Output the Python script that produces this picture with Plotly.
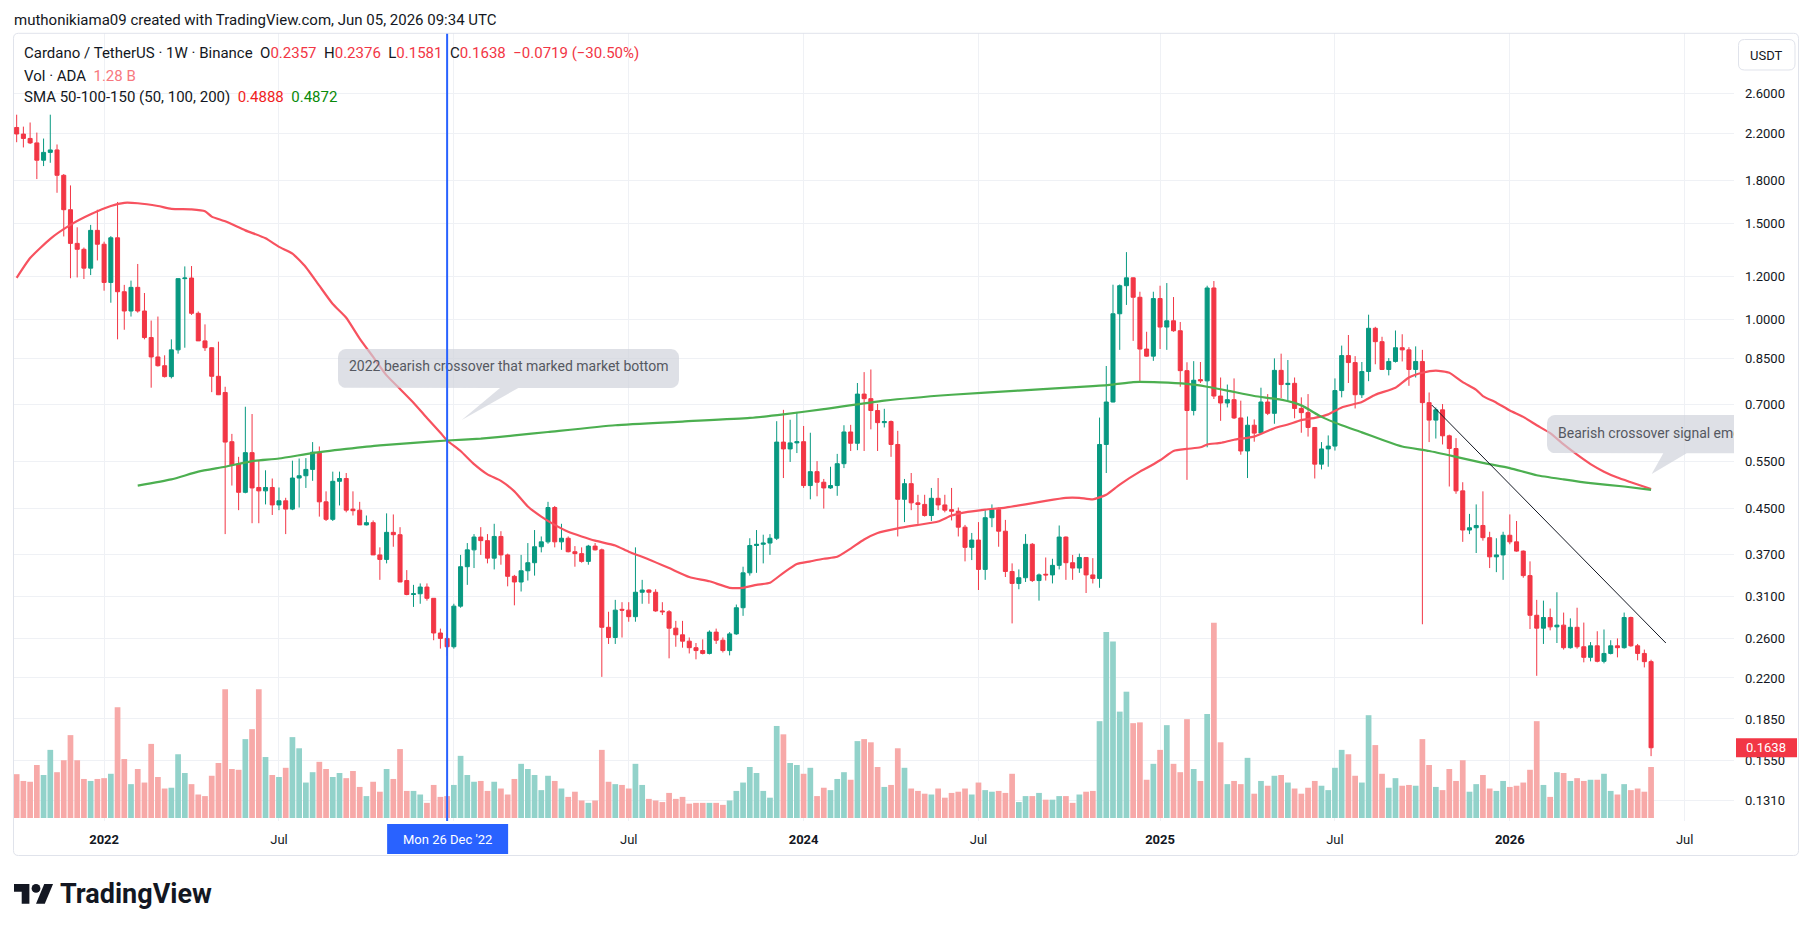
import numpy as np
import pandas as pd
import plotly.graph_objects as go

# ---------------- data ----------------
first_bar = "2021-10-04"          # weekly bars, Monday dates

opens = [2.252,2.19,2.15,2.11,1.961,2.027,2.048,1.840,1.591,1.380,
         1.346,1.243,1.458,1.375,1.170,1.413,1.125,1.037,1.146,1.037,
         0.927,0.854,0.823,0.786,0.880,1.189,1.192,1.027,0.914,0.888,
         0.787,0.735,0.597,0.543,0.482,0.570,0.492,0.485,0.492,0.457,
         0.465,0.449,0.512,0.517,0.531,0.571,0.463,0.430,0.505,0.511,
         0.449,0.447,0.420,0.424,0.370,0.363,0.407,0.403,0.332,0.313,
         0.314,0.323,0.308,0.266,0.260,0.251,0.298,0.352,0.378,0.399,
         0.393,0.365,0.400,0.370,0.338,0.330,0.346,0.358,0.383,0.391,
         0.452,0.391,0.397,0.375,0.372,0.360,0.384,0.378,0.2725,0.261,
         0.294,0.293,0.285,0.316,0.319,0.316,0.292,0.291,0.2715,0.264,
         0.257,0.250,0.247,0.244,0.267,0.258,0.247,0.265,0.296,0.343,
         0.385,0.387,0.389,0.397,0.596,0.579,0.594,0.597,0.496,0.526,
         0.503,0.491,0.496,0.544,0.622,0.593,0.730,0.716,0.681,0.647,
         0.650,0.590,0.468,0.500,0.461,0.458,0.437,0.470,0.457,0.448,
         0.445,0.416,0.382,0.394,0.348,0.433,0.448,0.409,0.345,0.328,
         0.336,0.387,0.332,0.341,0.340,0.354,0.399,0.358,0.350,0.366,
         0.340,0.335,0.590,0.706,1.025,1.154,1.193,1.099,0.883,0.857,
         1.093,0.969,0.995,0.954,0.806,0.681,0.776,0.772,1.143,0.724,
         0.703,0.713,0.660,0.574,0.640,0.619,0.706,0.673,0.807,0.760,
         0.764,0.687,0.675,0.634,0.543,0.579,0.586,0.741,0.859,0.834,
         0.728,0.803,0.964,0.911,0.810,0.838,0.888,0.880,0.810,0.838,
         0.704,0.654,0.683,0.612,0.580,0.485,0.411,0.415,0.419,0.398,
         0.367,0.370,0.402,0.391,0.376,0.339,0.2867,0.2715,0.284,0.273,
         0.275,0.250,0.2725,0.251,0.240,0.252,0.236,0.244,0.252,0.250,
         0.284,0.252,0.244,0.2357]

highs = [2.377,2.26,2.30,2.204,2.149,2.377,2.096,1.85,1.763,1.477,
         1.356,1.492,1.591,1.39,1.423,1.644,1.158,1.179,1.265,1.119,
         0.996,1.013,0.86,0.92,1.19,1.252,1.254,1.035,0.980,0.89,
         0.911,0.753,0.617,0.560,0.692,0.671,0.550,0.529,0.511,0.492,
         0.471,0.551,0.556,0.557,0.596,0.585,0.484,0.526,0.526,0.523,
         0.484,0.463,0.437,0.428,0.382,0.441,0.439,0.416,0.347,0.326,
         0.328,0.328,0.308,0.271,0.265,0.301,0.370,0.389,0.404,0.416,
         0.404,0.422,0.409,0.372,0.340,0.370,0.389,0.411,0.400,0.463,
         0.455,0.422,0.400,0.384,0.382,0.386,0.389,0.380,0.291,0.306,
         0.303,0.303,0.382,0.333,0.320,0.320,0.303,0.293,0.280,0.280,
         0.261,0.255,0.259,0.269,0.271,0.261,0.267,0.300,0.352,0.397,
         0.411,0.403,0.404,0.651,0.683,0.655,0.677,0.638,0.620,0.550,
         0.510,0.537,0.567,0.640,0.641,0.765,0.801,0.810,0.700,0.686,
         0.653,0.625,0.510,0.523,0.477,0.477,0.491,0.512,0.477,0.491,
         0.452,0.420,0.406,0.425,0.447,0.458,0.452,0.429,0.357,0.348,
         0.404,0.389,0.342,0.366,0.364,0.419,0.400,0.370,0.372,0.366,
         0.365,0.661,0.822,1.159,1.160,1.330,1.195,1.125,0.950,1.125,
         1.154,1.167,1.100,0.990,0.835,0.839,0.836,1.154,1.177,0.783,
         0.760,0.780,0.710,0.664,0.656,0.750,0.730,0.849,0.866,0.843,
         0.783,0.720,0.730,0.635,0.596,0.613,0.780,0.896,0.937,0.857,
         0.836,1.021,0.970,0.930,0.850,0.955,0.940,0.890,0.893,0.880,
         0.735,0.690,0.700,0.615,0.606,0.503,0.440,0.458,0.484,0.408,
         0.397,0.408,0.439,0.427,0.377,0.360,0.306,0.305,0.295,0.316,
         0.290,0.283,0.296,0.278,0.256,0.268,0.270,0.258,0.260,0.290,
         0.285,0.254,0.248,0.2376]

lows = [2.116,2.07,2.10,1.811,1.913,1.94,1.709,1.421,1.191,1.195,
        1.187,1.207,1.284,1.130,1.074,0.920,0.958,1.013,1.03,0.920,
        0.750,0.82,0.783,0.78,0.866,0.888,1.02,0.914,0.876,0.736,
        0.727,0.404,0.496,0.447,0.48,0.423,0.423,0.458,0.438,0.447,
        0.404,0.447,0.452,0.491,0.506,0.435,0.427,0.427,0.456,0.443,
        0.437,0.420,0.419,0.370,0.333,0.357,0.383,0.330,0.312,0.297,
        0.301,0.305,0.258,0.249,0.2415,0.249,0.296,0.326,0.350,0.370,
        0.357,0.348,0.355,0.324,0.299,0.317,0.332,0.339,0.374,0.388,
        0.382,0.378,0.374,0.352,0.358,0.355,0.377,0.221,0.254,0.254,
        0.261,0.279,0.279,0.301,0.301,0.291,0.287,0.239,0.251,0.250,
        0.244,0.238,0.243,0.243,0.254,0.245,0.242,0.264,0.286,0.339,
        0.343,0.357,0.370,0.394,0.512,0.548,0.569,0.491,0.468,0.474,
        0.450,0.489,0.475,0.534,0.574,0.576,0.574,0.629,0.574,0.634,
        0.560,0.400,0.425,0.447,0.422,0.435,0.427,0.447,0.443,0.428,
        0.400,0.360,0.362,0.319,0.333,0.416,0.383,0.337,0.277,0.320,
        0.330,0.330,0.305,0.332,0.328,0.348,0.333,0.333,0.343,0.315,
        0.328,0.322,0.523,0.705,0.880,1.064,0.914,0.768,0.855,0.840,
        0.883,0.880,0.950,0.753,0.508,0.667,0.765,0.583,0.715,0.652,
        0.690,0.657,0.565,0.512,0.597,0.618,0.668,0.644,0.718,0.710,
        0.659,0.620,0.610,0.511,0.531,0.537,0.575,0.720,0.765,0.687,
        0.718,0.771,0.828,0.808,0.790,0.834,0.838,0.756,0.783,0.276,
        0.596,0.605,0.590,0.494,0.479,0.391,0.404,0.373,0.393,0.350,
        0.344,0.333,0.387,0.375,0.336,0.2705,0.222,0.254,0.269,0.255,
        0.248,0.249,0.249,0.235,0.236,0.235,0.234,0.243,0.240,0.249,
        0.251,0.237,0.230,0.1581]

closes = [2.191,2.15,2.11,1.961,2.027,2.048,1.840,1.591,1.380,1.346,
          1.243,1.458,1.375,1.170,1.413,1.125,1.037,1.146,1.037,0.927,
          0.854,0.823,0.786,0.880,1.189,1.192,1.027,0.914,0.888,0.787,
          0.728,0.596,0.541,0.482,0.570,0.491,0.485,0.492,0.457,0.465,
          0.449,0.512,0.517,0.531,0.571,0.463,0.430,0.505,0.511,0.447,
          0.446,0.420,0.424,0.370,0.363,0.407,0.403,0.330,0.313,0.314,
          0.323,0.308,0.266,0.260,0.251,0.298,0.352,0.378,0.399,0.393,
          0.365,0.400,0.370,0.338,0.330,0.346,0.358,0.383,0.391,0.452,
          0.391,0.397,0.375,0.372,0.360,0.384,0.378,0.2725,0.261,0.293,
          0.293,0.285,0.316,0.319,0.316,0.292,0.291,0.2715,0.264,0.257,
          0.250,0.247,0.244,0.267,0.258,0.247,0.265,0.296,0.343,0.385,
          0.387,0.389,0.397,0.596,0.579,0.594,0.597,0.496,0.526,0.503,
          0.491,0.496,0.544,0.622,0.593,0.730,0.716,0.681,0.647,0.650,
          0.590,0.468,0.500,0.461,0.458,0.437,0.470,0.457,0.447,0.445,
          0.416,0.382,0.394,0.348,0.433,0.448,0.409,0.345,0.328,0.336,
          0.387,0.332,0.340,0.340,0.354,0.399,0.358,0.350,0.366,0.340,
          0.335,0.590,0.706,1.025,1.154,1.193,1.099,0.883,0.857,1.093,
          0.969,0.995,0.954,0.806,0.681,0.774,0.772,1.143,0.724,0.703,
          0.713,0.660,0.574,0.640,0.619,0.706,0.673,0.807,0.760,0.764,
          0.687,0.675,0.634,0.543,0.579,0.586,0.741,0.859,0.834,0.728,
          0.803,0.964,0.911,0.810,0.838,0.888,0.880,0.810,0.838,0.704,
          0.654,0.683,0.612,0.580,0.485,0.411,0.415,0.419,0.398,0.367,
          0.370,0.402,0.391,0.376,0.339,0.2867,0.2715,0.284,0.273,0.275,
          0.250,0.2725,0.251,0.240,0.252,0.236,0.244,0.252,0.250,0.284,
          0.252,0.244,0.2357,0.1638]

volume_bn = [1.10,0.93,0.91,1.33,1.08,1.71,1.15,1.45,2.08,1.45,
             0.98,0.93,0.98,1.00,1.11,2.78,1.48,0.85,1.23,0.89,
             1.86,1.03,0.74,0.76,1.60,1.13,0.85,0.59,0.55,1.06,
             1.38,3.23,1.23,1.21,1.98,2.23,3.23,1.53,1.08,1.03,
             1.26,
             2.03,1.75,0.89,1.15,1.41,1.23,1.03,1.13,1.00,1.18,
             0.78,0.55,0.91,0.66,1.23,0.98,1.73,0.68,0.68,0.59,
             0.38,0.83,0.53,0.55,0.83,1.56,1.08,0.91,0.93,0.68,
             0.91,0.74,0.59,0.98,1.36,1.23,1.08,0.70,1.06,0.93,
             0.74,0.53,0.66,0.44,0.38,0.44,1.71,0.91,0.85,0.83,
             0.74,1.36,0.83,0.48,0.44,0.40,0.63,0.48,0.53,0.36,
             0.38,0.38,0.38,0.38,0.33,0.44,0.68,0.89,1.28,1.13,
             0.68,0.51,2.31,2.10,1.38,1.33,1.11,1.26,0.55,0.76,
             0.70,0.98,1.15,0.96,1.93,1.98,1.90,1.28,0.78,0.83,
             1.75,1.26,0.74,0.68,0.61,0.59,0.74,0.51,0.63,0.66,
             0.74,0.59,0.89,0.70,0.66,0.68,0.63,1.11,0.40,0.55,
             0.55,0.63,0.46,0.46,0.55,0.55,0.38,0.59,0.66,0.68,
             2.43,4.67,4.43,2.67,3.17,2.38,2.40,0.96,1.36,1.71,
             2.33,1.36,1.15,2.48,1.23,0.93,2.61,4.90,1.90,0.85,
             0.93,0.85,1.51,0.61,0.93,0.81,1.06,1.08,0.89,0.74,
             0.61,0.76,0.93,0.81,0.70,1.26,1.71,1.60,1.06,0.89,
             2.58,1.83,1.11,0.76,1.00,0.81,0.83,0.81,1.98,1.33,
             0.78,0.70,1.23,0.93,1.45,0.66,0.85,1.08,0.74,0.68,
             0.93,0.78,0.81,0.89,1.21,2.43,0.83,0.53,1.15,1.13,
             0.93,1.00,0.93,0.96,0.96,1.11,0.68,0.59,0.85,0.70,
             0.74,0.66,1.28]

# SMA lines at these bar indices
sma50_bar = [0,2,5,8,11,14,16,18,21,23,26,28,29,31,34,37,39,41,43,45,47,49,51,53,55,
             57,59,61,63,64,66,68,70,72,74,76,78,80,82,84,86,89,91,94,97,100,103,106,
             108,110,112,114,116,118,120,122,124,126,128,131,134,137,139,141,144,147,
             150,153,156,158,160,162,164,167,168,170,172,174,176,177,179,181,184,187,
             189,191,193,195,197,200,202,205,207,209,211,213,215,217,218,220,222,224,
             226,228,230,232,234,236,238,240,243]
sma50_val = [1.193,1.297,1.407,1.492,1.560,1.616,1.638,1.635,1.616,1.597,1.593,1.581,
             1.545,1.515,1.458,1.410,1.360,1.322,1.248,1.154,1.068,1.008,0.923,0.854,
             0.790,0.746,0.704,0.660,0.620,0.600,0.574,0.543,0.520,0.506,0.484,0.454,
             0.435,0.420,0.408,0.400,0.393,0.385,0.375,0.363,0.350,0.337,0.331,0.322,
             0.322,0.326,0.329,0.343,0.356,0.360,0.364,0.367,0.380,0.395,0.406,0.414,
             0.420,0.426,0.437,0.443,0.448,0.452,0.458,0.465,0.471,0.471,0.468,0.477,
             0.498,0.526,0.534,0.552,0.574,0.579,0.583,0.590,0.594,0.602,0.610,0.632,
             0.642,0.654,0.660,0.670,0.690,0.706,0.728,0.750,0.783,0.799,0.806,0.799,
             0.768,0.743,0.724,0.704,0.681,0.663,0.640,0.619,0.590,0.565,0.543,0.526,
             0.513,0.503,0.4888]
sma200_bar = [18,23,27,31,35,39,44,49,54,59,64,69,74,79,89,99,109,114,120,129,139,149,
              160,163,166,170,174,177,180,184,188,191,194,197,200,203,206,210,214,218,
              222,226,230,234,239,243]
sma200_val = [0.496,0.509,0.526,0.537,0.550,0.556,0.569,0.579,0.588,0.594,0.600,0.605,
              0.613,0.622,0.640,0.650,0.660,0.670,0.685,0.710,0.728,0.741,0.755,0.760,
              0.768,0.767,0.762,0.753,0.741,0.724,0.713,0.696,0.663,0.640,0.621,0.602,
              0.585,0.574,0.560,0.546,0.534,0.518,0.509,0.501,0.494,0.4872]

trend_bar = [210.4, 245.2]
trend_val = [0.697, 0.255]
crosshair_bar = 64

price_ticks = [0.131, 0.155, 0.185, 0.22, 0.26, 0.31, 0.37, 0.45, 0.55, 0.70,
               0.85, 1.0, 1.2, 1.5, 1.8, 2.2, 2.6]
time_tick_dates = ["2022-01-03", "2022-07-04", "2023-01-02", "2023-07-03", "2024-01-01",
                   "2024-07-01", "2025-01-06", "2025-07-07", "2026-01-05", "2026-07-06"]
time_tick_text = ["<b>2022</b>", "Jul", "", "Jul", "<b>2024</b>", "Jul",
                  "<b>2025</b>", "Jul", "<b>2026</b>", "Jul"]

# ---------------- styling / geometry ----------------
W, H = 1814, 931
L, R, T, B = 14, 1734, 33, 821
UP, DN = "#089981", "#F23645"
VUP, VDN = "#92D2CA", "#F7A9A8"
GRID = "#EFF1F5"
TXT = "#131722"
FONT = "Roboto"

t_first = pd.Timestamp(first_bar)
def bar_date(i):
    return t_first + pd.Timedelta(days=7 * i)

dates = [bar_date(i) for i in range(len(opens))]
t0, t1 = bar_date(-0.396), bar_date(255.33)
ylo, yhi = np.log10(0.1202), np.log10(3.357)

def px(X):
    return (X - L) / (R - L)

def py(Y):
    return (B - Y) / (B - T)

def x_of_px(X):
    return t0 + (t1 - t0) * ((X - L) / (R - L))

def p_of_px(Y):
    return 10 ** (ylo + (B - Y) / (B - T) * (yhi - ylo))

def ypx_of_price(p):
    return B - (np.log10(p) - ylo) / (yhi - ylo) * (B - T)

def xpx_of_date(t):
    return L + (t - t0) / (t1 - t0) * (R - L)

def rounded_path(x0, y0, x1, y1, r):
    def P(x, y):
        return f"{px(x):.6f},{py(y):.6f}"
    return (f"M {P(x0 + r, y0)} L {P(x1 - r, y0)} Q {P(x1, y0)} {P(x1, y0 + r)} "
            f"L {P(x1, y1 - r)} Q {P(x1, y1)} {P(x1 - r, y1)} L {P(x0 + r, y1)} "
            f"Q {P(x0, y1)} {P(x0, y1 - r)} L {P(x0, y0 + r)} Q {P(x0, y0)} {P(x0 + r, y0)} Z")

def callout_pts(x0, y0, x1, y1, r, tail_r, tail_l, tip):
    pts = []
    def arc(cx, cy, a0, a1):
        for a in np.linspace(a0, a1, 8):
            pts.append((cx + r * np.cos(np.radians(a)), cy + r * np.sin(np.radians(a))))
    arc(x1 - r, y0 + r, -90, 0)
    arc(x1 - r, y1 - r, 0, 90)
    pts.append((tail_r, y1)); pts.append(tip); pts.append((tail_l, y1))
    arc(x0 + r, y1 - r, 90, 180)
    arc(x0 + r, y0 + r, 180, 270)
    pts.append(pts[0])
    return [x_of_px(a) for a, b in pts], [p_of_px(b) for a, b in pts]

# ---------------- figure ----------------
fig = go.Figure()

vol_colors = [VUP if c >= o else VDN for o, c in zip(opens, closes)]
fig.add_trace(go.Bar(x=dates, y=volume_bn, marker=dict(color=vol_colors, line=dict(width=0)),
                     yaxis="y", hoverinfo="skip", showlegend=False))

fig.add_trace(go.Candlestick(
    x=dates, open=opens, high=highs, low=lows, close=closes, yaxis="y2",
    increasing=dict(line=dict(color=UP, width=1), fillcolor=UP),
    decreasing=dict(line=dict(color=DN, width=1), fillcolor=DN),
    whiskerwidth=0, hoverinfo="skip", showlegend=False))

fig.add_trace(go.Scatter(x=[bar_date(i) for i in sma50_bar], y=sma50_val, mode="lines",
                         line=dict(color="#F7525F", width=2.2, shape="spline", smoothing=0.5),
                         yaxis="y2", hoverinfo="skip", showlegend=False))
fig.add_trace(go.Scatter(x=[bar_date(i) for i in sma200_bar], y=sma200_val, mode="lines",
                         line=dict(color="#4CAF50", width=2.2, shape="spline", smoothing=0.5),
                         yaxis="y2", hoverinfo="skip", showlegend=False))
fig.add_trace(go.Scatter(x=[bar_date(i) for i in trend_bar], y=trend_val, mode="lines",
                         line=dict(color=TXT, width=1), yaxis="y2",
                         hoverinfo="skip", showlegend=False))

# callout boxes (semi-transparent, clipped to the pane)
BOXFILL = "rgba(206,209,218,0.68)"
for (x0, y0, x1, y1, tr, tl, tip) in [
        (338, 349, 679, 388, 518.3, 500.0, (461.7, 420.0)),
        (1547, 415, 1770, 453.3, 1686.7, 1663.3, (1651.7, 474.0))]:
    bx, by = callout_pts(x0, y0, x1, y1, 8, tr, tl, tip)
    fig.add_trace(go.Scatter(x=bx, y=by, mode="lines", fill="toself", fillcolor=BOXFILL,
                             line=dict(width=0, color="rgba(0,0,0,0)"), yaxis="y2",
                             hoverinfo="skip", showlegend=False))

fig.add_trace(go.Scatter(x=[x_of_px(349)], y=[p_of_px(367.5)], mode="text",
                         text=["2022 bearish crossover that marked market bottom"],
                         textposition="middle right", textfont=dict(size=14, color="#555861", family=FONT),
                         yaxis="y2", cliponaxis=True, hoverinfo="skip", showlegend=False))
fig.add_trace(go.Scatter(x=[x_of_px(1558)], y=[p_of_px(434.5)], mode="text",
                         text=["Bearish crossover signal emerges"],
                         textposition="middle right", textfont=dict(size=14, color="#555861", family=FONT),
                         yaxis="y2", cliponaxis=True, hoverinfo="skip", showlegend=False))

shapes = []
annotations = []

# crosshair vertical line + time label
ch_date = bar_date(crosshair_bar)
shapes.append(dict(type="line", xref="x", yref="paper", x0=ch_date, x1=ch_date, y0=0, y1=1,
                   line=dict(color="#2962FF", width=2), layer="above"))
chx = xpx_of_date(ch_date)
shapes.append(dict(type="rect", xref="paper", yref="paper", x0=px(chx - 60), x1=px(chx + 61),
                   y0=py(854), y1=py(824), fillcolor="#2962FF", line=dict(width=0)))
annotations.append(dict(xref="paper", yref="paper", x=px(chx + 0.5), y=py(839.5),
                        text=ch_date.strftime("%a %d %b '%y"), showarrow=False,
                        font=dict(size=13, color="white", family=FONT),
                        xanchor="center", yanchor="middle"))

# outer chart border
shapes.append(dict(type="path", xref="paper", yref="paper",
                   path=rounded_path(13.5, 33.3, 1798.5, 855.5, 5),
                   line=dict(color="#E0E3EB", width=1), fillcolor="rgba(0,0,0,0)"))

# USDT button
shapes.append(dict(type="path", xref="paper", yref="paper",
                   path=rounded_path(1738.5, 39.5, 1795, 70, 6),
                   line=dict(color="#E0E3EB", width=1), fillcolor="white"))
annotations.append(dict(xref="paper", yref="paper", x=px(1766.7), y=py(55), text="USDT",
                        showarrow=False, font=dict(size=13, color=TXT, family=FONT),
                        xanchor="center", yanchor="middle"))

# last price label
last = closes[-1]
yl = ypx_of_price(last)
shapes.append(dict(type="rect", xref="paper", yref="paper", x0=px(1736), x1=px(1797),
                   y0=py(yl + 9.5), y1=py(yl - 9.5), fillcolor="#F23645", line=dict(width=0)))
annotations.append(dict(xref="paper", yref="paper", x=px(1766.5), y=py(yl), text=f"{last:.4f}",
                        showarrow=False, font=dict(size=13, color="white", family=FONT),
                        xanchor="center", yanchor="middle"))

# header / legend
annotations.append(dict(xref="paper", yref="paper", x=px(12), y=py(20),
                        text="muthonikiama09 created with TradingView.com, Jun 05, 2026 09:34 UTC",
                        showarrow=False, font=dict(size=15, color=TXT, family=FONT),
                        xanchor="left", yanchor="middle"))

def col(s, c):
    return f'<span style="color:{c}">{s}</span>'

o, h, l, c = opens[-1], highs[-1], lows[-1], closes[-1]
chg = c - closes[-2]
pct = chg / closes[-2] * 100
sp = "\u00a0\u00a0"
mn = "\u2212" if chg < 0 else "+"
line1 = ("Cardano / TetherUS · 1W · Binance" + sp + "O" + col(f"{o:.4f}", DN) + sp + "H" +
         col(f"{h:.4f}", DN) + sp + "L" + col(f"{l:.4f}", DN) + sp + "C" + col(f"{c:.4f}", DN) +
         sp + col(f"{mn}{abs(chg):.4f} ({mn}{abs(pct):.2f}%)", DN))
line2 = "Vol · ADA" + sp + col(f"{volume_bn[-1]:.2f}\u00a0B", "#F7787E")
line3 = ("SMA 50-100-150 (50, 100, 200)" + sp + col(f"{sma50_val[-1]:.4f}", "#F01E1E") + sp +
         col(f"{sma200_val[-1]:.4f}", "#0A8A0A"))
for txt, yy in [(line1, 53.5), (line2, 75.5), (line3, 96.5)]:
    annotations.append(dict(xref="paper", yref="paper", x=px(22), y=py(yy), text=txt,
                            showarrow=False, font=dict(size=15, color=TXT, family=FONT),
                            xanchor="left", yanchor="middle"))

# TradingView logo
s, ox, oy = 1.1, 14.0, 879.6
def lp(pts):
    return "M " + " L ".join(f"{px(ox + a * s):.6f},{py(oy + b * s):.6f}" for a, b in pts) + " Z"
shapes.append(dict(type="path", xref="paper", yref="paper",
                   path=lp([(0, 4), (14, 4), (14, 22), (7, 22), (7, 11), (0, 11)]),
                   fillcolor=TXT, line=dict(width=0)))
shapes.append(dict(type="path", xref="paper", yref="paper",
                   path=lp([(20, 22), (27.5, 4), (35.5, 4), (28, 22)]),
                   fillcolor=TXT, line=dict(width=0)))
shapes.append(dict(type="circle", xref="paper", yref="paper",
                   x0=px(ox + 16 * s), x1=px(ox + 24 * s), y0=py(oy + 12 * s), y1=py(oy + 4 * s),
                   fillcolor=TXT, line=dict(width=0)))
annotations.append(dict(xref="paper", yref="paper", x=px(58), y=py(894), text="<b>TradingView</b>",
                        showarrow=False, font=dict(size=27, color=TXT, family=FONT),
                        xanchor="left", yanchor="middle"))

fig.update_layout(
    width=W, height=H,
    margin=dict(l=L, r=W - R, t=T, b=H - B, pad=0),
    paper_bgcolor="white", plot_bgcolor="white",
    showlegend=False, hovermode=False,
    bargap=0.15, boxgap=0.4, boxgroupgap=0,
    font=dict(family=FONT, color=TXT),
    xaxis=dict(type="date", range=[t0, t1], tickvals=time_tick_dates, ticktext=time_tick_text,
               showgrid=True, gridcolor=GRID, gridwidth=1, ticks="", zeroline=False,
               showline=False, tickfont=dict(size=13, color=TXT, family=FONT),
               rangeslider=dict(visible=False), fixedrange=True, ticklabelstandoff=9),
    yaxis=dict(range=[-0.075, 19.7], visible=False, fixedrange=True),
    yaxis2=dict(type="log", overlaying="y", side="right", anchor="x", range=[ylo, yhi],
                tickvals=price_ticks, ticktext=[f"{v:.4f}" for v in price_ticks],
                showgrid=True, gridcolor=GRID, gridwidth=1, ticks="", zeroline=False,
                showline=False, tickfont=dict(size=13, color=TXT, family=FONT),
                fixedrange=True, ticklabelstandoff=10),
    shapes=shapes, annotations=annotations,
)

fig.write_html("out.html", config={"displayModeBar": False, "staticPlot": True})
